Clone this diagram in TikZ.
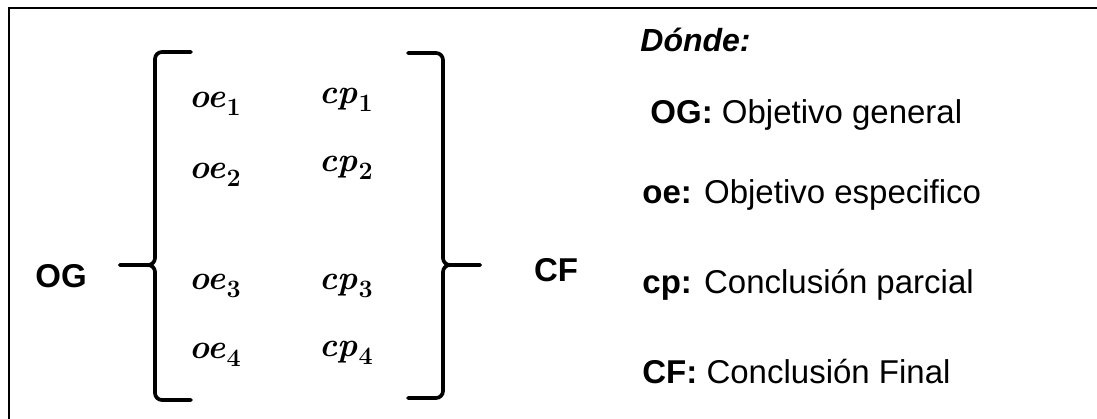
\documentclass[tikz,border=0pt]{standalone}
\usepackage{fontspec}
\newfontfamily\arial{Liberation Sans}
% bold italic symbol with a bold upright subscript
\newcommand\bsym[2]{{\bfseries\itshape #1}\kern0.6pt\raisebox{-0.24em}{\fontsize{12.5}{14}\selectfont\bfseries #2}}
\begin{document}
\begin{tikzpicture}[x=0.5pt,y=-0.5pt,
  brace/.style={line width=1.85pt, line cap=round, rounded corners=3.5pt},
  lbl/.style={font=\arial\fontsize{16.5}{19}\selectfont, inner sep=0pt},
  sym/.style={font=\fontsize{17}{19}\selectfont, inner sep=0pt, anchor=base},
]
\useasboundingbox (0,0) rectangle (1097,418);
\clip (0,0) rectangle (1097,418);
% outer frame
\draw[line width=1.25pt] (9,8) rectangle (1140,460);

% left brace
\draw[brace] (191,52) -- (155,52) -- (155,265) -- (120,265);
\draw[brace] (191,400) -- (155,400) -- (155,265) -- (120,265);
% right brace
\draw[brace] (408,53) -- (443,53) -- (443,265) -- (480,265);
\draw[brace] (408,398) -- (443,398) -- (443,265) -- (480,265);

% general objective and final conclusion
\node[lbl, anchor=base] (og) at (61,287) {\bfseries OG};
\node[lbl, anchor=base] (cf) at (556,281) {\bfseries CF};

% specific objectives
\node[sym] (oe1) at (215,107) {\bsym{oe}{1}};
\node[sym] (oe2) at (215,178) {\bsym{oe}{2}};
\node[sym] (oe3) at (215,289) {\bsym{oe}{3}};
\node[sym] (oe4) at (215,358) {\bsym{oe}{4}};
% partial conclusions
\node[sym] (cp1) at (346,103) {\bsym{cp}{1}};
\node[sym] (cp2) at (346,171) {\bsym{cp}{2}};
\node[sym] (cp3) at (346,289) {\bsym{cp}{3}};
\node[sym] (cp4) at (346,356) {\bsym{cp}{4}};

% legend
\node[lbl, anchor=base west, font=\arial\fontsize{16}{19}\selectfont] (where) at (640,51) {\bfseries\itshape Dónde:};
\node[lbl, anchor=base west] (leg-og) at (650,123) {\textbf{OG:} Objetivo general};
\node[lbl, anchor=base west] (leg-oe) at (642,203) {\textbf{oe:} Objetivo especifico};
\node[lbl, anchor=base west] (leg-cp) at (642,293) {\textbf{cp:} Conclusión parcial};
\node[lbl, anchor=base west] (leg-cf) at (642,383) {\textbf{CF:} Conclusión Final};
\end{tikzpicture}
\end{document}
